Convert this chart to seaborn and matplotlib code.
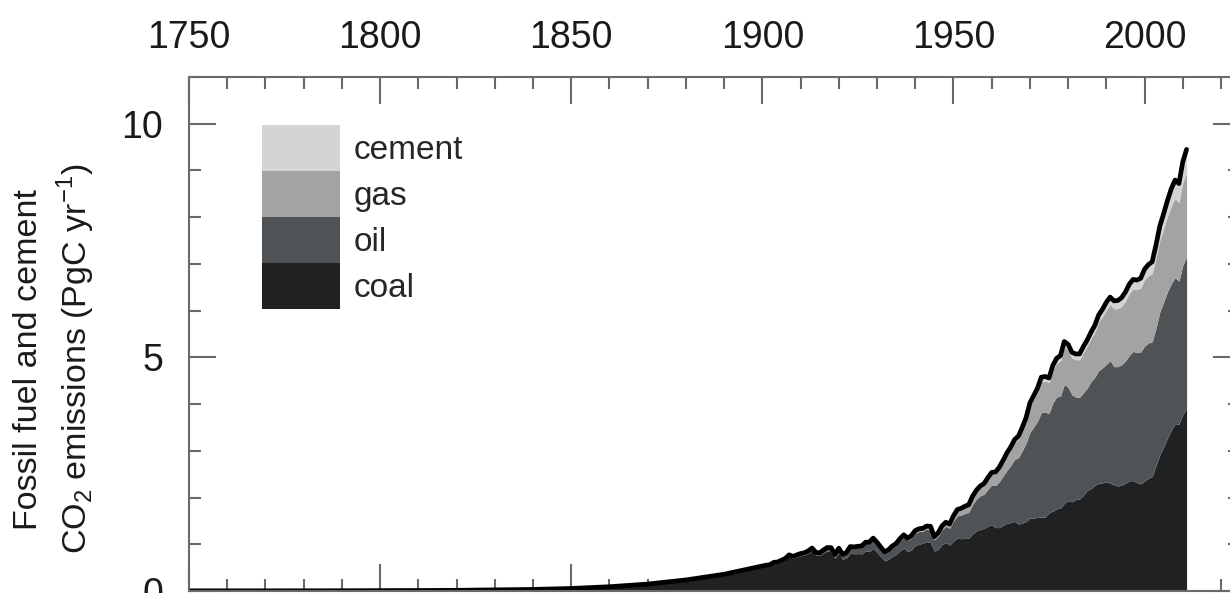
import matplotlib
matplotlib.use("Agg")
import matplotlib.pyplot as plt
import seaborn as sns
import numpy as np
from matplotlib.ticker import MultipleLocator

# years: decadal before 1900, annual after
years = list(range(1750, 1900, 10)) + list(range(1900, 2012))

coal = [0.003, 0.003, 0.003, 0.004, 0.005, 0.008, 0.010, 0.014, 0.024, 0.033, 0.054, 0.091, 0.147, 0.232, 0.347,
        0.507, 0.524, 0.534, 0.584, 0.588, 0.624, 0.662, 0.736, 0.700, 0.730,
        0.757, 0.771, 0.807, 0.866, 0.770, 0.758, 0.814, 0.860, 0.835, 0.698,
        0.818, 0.681, 0.707, 0.809, 0.797, 0.800, 0.796, 0.860, 0.848, 0.910,
        0.825, 0.733, 0.645, 0.680, 0.742, 0.781, 0.862, 0.915, 0.844, 0.880,
        0.975, 1.000, 1.025, 1.056, 1.035, 0.855, 0.889, 0.996, 1.034, 0.985,
        1.070, 1.129, 1.119, 1.125, 1.127, 1.225, 1.287, 1.321, 1.340, 1.389,
        1.419, 1.356, 1.358, 1.409, 1.446, 1.468, 1.490, 1.433, 1.450, 1.487,
        1.556, 1.559, 1.576, 1.581, 1.579, 1.673, 1.710, 1.756, 1.780, 1.875,
        1.935, 1.908, 1.955, 1.972, 2.044, 2.154, 2.189, 2.266, 2.303, 2.314,
        2.339, 2.307, 2.273, 2.248, 2.263, 2.307, 2.359, 2.360, 2.315, 2.290,
        2.354, 2.411, 2.456, 2.684, 2.917, 3.082, 3.272, 3.438, 3.582, 3.568,
        3.774, 3.900]

oil = [0, 0, 0, 0, 0, 0, 0, 0, 0, 0, 0, 0, 0.001, 0.003, 0.009,
       0.023, 0.023, 0.024, 0.023, 0.026, 0.027, 0.027, 0.030, 0.032, 0.034,
       0.036, 0.037, 0.041, 0.042, 0.045, 0.048, 0.054, 0.061, 0.080, 0.075,
       0.083, 0.088, 0.102, 0.123, 0.126, 0.134, 0.146, 0.158, 0.170, 0.186,
       0.180, 0.170, 0.161, 0.170, 0.184, 0.195, 0.214, 0.237, 0.235, 0.251,
       0.261, 0.271, 0.254, 0.269, 0.282, 0.240, 0.282, 0.315, 0.350, 0.357,
       0.423, 0.479, 0.504, 0.533, 0.557, 0.625, 0.679, 0.714, 0.731, 0.789,
       0.849, 0.904, 0.980, 1.052, 1.137, 1.219, 1.323, 1.423, 1.551, 1.673,
       1.839, 1.947, 2.057, 2.241, 2.245, 2.131, 2.313, 2.395, 2.392, 2.544,
       2.422, 2.289, 2.196, 2.176, 2.199, 2.186, 2.293, 2.306, 2.412, 2.459,
       2.512, 2.621, 2.529, 2.553, 2.578, 2.612, 2.680, 2.768, 2.785, 2.824,
       2.886, 2.895, 2.879, 2.945, 3.054, 3.105, 3.130, 3.142, 3.122, 3.061,
       3.190, 3.250]

gas = [0, 0, 0, 0, 0, 0, 0, 0, 0, 0, 0, 0, 0, 0.001, 0.002,
       0.003, 0.003, 0.003, 0.004, 0.004, 0.004, 0.004, 0.005, 0.005, 0.005,
       0.005, 0.006, 0.006, 0.007, 0.007, 0.007, 0.008, 0.008, 0.008, 0.008,
       0.010, 0.010, 0.011, 0.013, 0.014, 0.015, 0.016, 0.018, 0.020, 0.025,
       0.028, 0.025, 0.024, 0.025, 0.028, 0.030, 0.034, 0.038, 0.037, 0.040,
       0.043, 0.045, 0.048, 0.052, 0.056, 0.058, 0.062, 0.066, 0.072, 0.074,
       0.097, 0.115, 0.124, 0.131, 0.138, 0.150, 0.161, 0.178, 0.192, 0.206,
       0.227, 0.240, 0.263, 0.286, 0.316, 0.337, 0.364, 0.392, 0.427, 0.474,
       0.550, 0.590, 0.620, 0.660, 0.670, 0.660, 0.700, 0.720, 0.750, 0.800,
       0.800, 0.790, 0.800, 0.800, 0.860, 0.900, 0.920, 0.970, 1.040, 1.100,
       1.170, 1.200, 1.240, 1.240, 1.250, 1.290, 1.330, 1.340, 1.350, 1.370,
       1.420, 1.440, 1.460, 1.500, 1.540, 1.570, 1.610, 1.660, 1.700, 1.680,
       1.770, 1.810]

cement = [0, 0, 0, 0, 0, 0, 0, 0, 0, 0, 0, 0, 0, 0, 0,
          0.002, 0.002, 0.002, 0.002, 0.002, 0.003, 0.003, 0.003, 0.003, 0.003,
          0.003, 0.004, 0.004, 0.004, 0.004, 0.003, 0.003, 0.003, 0.003, 0.003,
          0.004, 0.004, 0.005, 0.006, 0.006, 0.007, 0.007, 0.008, 0.009, 0.010,
          0.010, 0.009, 0.008, 0.008, 0.009, 0.010, 0.011, 0.012, 0.012, 0.013,
          0.014, 0.015, 0.014, 0.013, 0.011, 0.010, 0.012, 0.014, 0.015, 0.016,
          0.018, 0.020, 0.022, 0.024, 0.025, 0.027, 0.030, 0.032, 0.035, 0.040,
          0.043, 0.045, 0.049, 0.051, 0.057, 0.059, 0.063, 0.066, 0.071, 0.074,
          0.078, 0.084, 0.089, 0.095, 0.096, 0.095, 0.103, 0.108, 0.116, 0.119,
          0.120, 0.121, 0.121, 0.125, 0.128, 0.131, 0.137, 0.143, 0.152, 0.156,
          0.157, 0.161, 0.167, 0.176, 0.186, 0.189, 0.195, 0.200, 0.203, 0.209,
          0.226, 0.237, 0.251, 0.276, 0.298, 0.318, 0.345, 0.369, 0.391, 0.410,
          0.446, 0.490]

sources = ["coal", "oil", "gas", "cement"]
colors = ["#1f2123", "#505355", "#a3a3a3", "#d4d4d4"]
x_ticks = [1750, 1800, 1850, 1900, 1950, 2000]
y_ticks = [0, 5, 10]

total = np.array(coal) + np.array(oil) + np.array(gas) + np.array(cement)

sns.set_style("white")
plt.rcParams["font.family"] = ["Liberation Sans", "DejaVu Sans"]

fig = plt.figure(figsize=(12.3, 5.93), dpi=100)
ax = fig.add_axes([0.1537, 0.0034, 0.8545, 0.8668])

ax.stackplot(years, coal, oil, gas, cement, colors=colors, labels=sources, linewidth=0)
sns.lineplot(x=years, y=total, color="black", linewidth=3.4, ax=ax, legend=False)

ax.set_xlim(1750, 2025)
ax.set_ylim(0, 11)
ax.set_xticks(x_ticks)
ax.set_yticks(y_ticks)
ax.xaxis.set_minor_locator(MultipleLocator(10))
ax.yaxis.set_minor_locator(MultipleLocator(1))
ax.set_axisbelow(True)

tick_col = "#6a6a6a"
ax.tick_params(axis="x", which="both", direction="in", top=True, bottom=True,
               labeltop=True, labelbottom=False, color=tick_col, width=1.5)
ax.tick_params(axis="y", which="both", direction="in", left=True, right=True,
               labelleft=True, labelright=False, color=tick_col, width=1.5)
ax.tick_params(which="major", length=19.5, labelsize=27, labelcolor="#1a1a1a")
ax.tick_params(axis="x", which="major", pad=15)
ax.tick_params(axis="y", which="major", pad=18.5)
ax.tick_params(which="minor", length=8.5)
for sp in ax.spines.values():
    sp.set_color(tick_col)
    sp.set_linewidth(1.5)

ax.set_xlabel("")
ax.set_ylabel("Fossil fuel and cement\nCO$_\\mathregular{2}$ emissions (PgC yr$^\\mathregular{-1}$)",
              fontsize=24.5, color="#1a1a1a", linespacing=1.34, va="center")
ax.yaxis.set_label_coords(-0.1275, 0.451)

handles, labels = ax.get_legend_handles_labels()
ax.legend(handles[::-1], labels[::-1], loc="upper left", bbox_to_anchor=(0.0695, 0.9066),
          frameon=False, borderpad=0, borderaxespad=0, labelspacing=0,
          handlelength=2.34, handleheight=1.746, handletextpad=0.4, fontsize=24)

fig.savefig("out.png", dpi=100)
